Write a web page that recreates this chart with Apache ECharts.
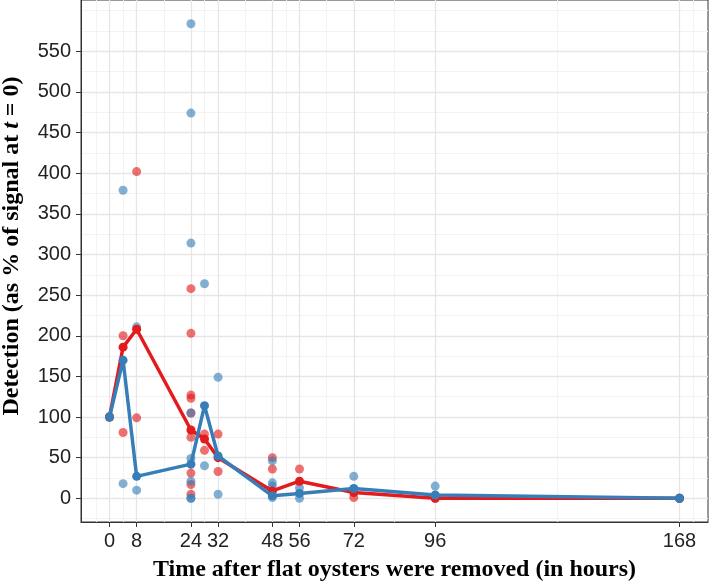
<!DOCTYPE html>
<html>
<head>
<meta charset="utf-8">
<script src="https://cdn.jsdelivr.net/npm/echarts@6/dist/echarts.min.js"></script>
<style>
html,body{margin:0;padding:0;background:#fff;}
#chart{width:709px;height:584px;}
</style>
</head>
<body>
<div id="chart"></div>
<script>
// ---- data ----
const times = [0, 4, 8, 24, 28, 32, 48, 56, 72, 96, 168];
const redMean  = [100, 186, 208, 84, 73, 50, 9, 21, 7, 0, 0];
const blueMean = [100, 170, 27, 42, 114, 52, 3, 6, 12, 4, 0];
const redRaw = [
  [100], [200, 81], [402, 99],
  [258, 203, 127, 123, 105, 75, 31, 17, 5],
  [79, 59], [79, 33], [50, 36], [36], [1], [0], [0]
];
const blueRaw = [
  [100], [379, 18], [211, 10],
  [584, 474, 314, 105, 49, 21, 0, 0],
  [264, 40], [149, 5], [46, 19, 15, 1], [13, 0], [27], [15], [0]
];
const xTicks = [0, 8, 24, 32, 48, 56, 72, 96, 168];
const xMinor = [-4, 4, 16, 28, 40, 52, 64, 84, 132, 172];
const yTicks = [0, 50, 100, 150, 200, 250, 300, 350, 400, 450, 500, 550];
const yMinor = [-25, 25, 75, 125, 175, 225, 275, 325, 375, 425, 475, 525, 575, 600];
const xTitle = 'Time after flat oysters were removed (in hours)';
const yTitle = 'Detection (as % of signal at {i|t} = 0)';

// ---- build ----
function pairs(arr) {
  const out = [];
  arr.forEach((vals, i) => vals.forEach(v => out.push([times[i], v])));
  return out;
}
const meanPairs = m => m.map((v, i) => [times[i], v]);

const RED = '#E41A1C', BLUE = '#377EB8';
const MAJOR = '#e6e6e6', MINOR = '#f3f3f3';
const SERIF = 'Liberation Serif, Times New Roman, serif';

const gridLines = (vals, key, color, width) => ({
  type: 'scatter', data: [], z: 0, silent: true,
  markLine: {
    z: 0, silent: true, symbol: ['none', 'none'], animation: false,
    label: { show: false },
    emphasis: { disabled: true },
    lineStyle: { type: 'solid', color: color, width: width },
    data: vals.map(v => ({ [key]: v }))
  }
});

const chart = echarts.init(document.getElementById('chart'), null, { renderer: 'canvas' });
chart.setOption({
  animation: false,
  backgroundColor: '#fff',
  grid: { left: 81, right: 1, top: 0, bottom: 62, containLabel: false, outerBoundsMode: 'none',
          show: true, borderColor: '#333', borderWidth: 1, backgroundColor: 'transparent' },
  xAxis: {
    type: 'value', min: -8.4, max: 176.4,
    splitLine: { show: false },
    axisLine: { show: true, onZero: false, lineStyle: { color: '#333', width: 1 } },
    axisTick: { show: true, length: 5, customValues: xTicks, lineStyle: { color: '#333' } },
    axisLabel: { customValues: xTicks, margin: 9, color: '#222', fontSize: 20, fontFamily: 'Liberation Sans, Arial, sans-serif' },
    name: xTitle, nameLocation: 'middle', nameGap: 36,
    nameTextStyle: { fontSize: 24, fontWeight: 'bold', color: '#000', fontFamily: SERIF }
  },
  yAxis: {
    type: 'value', min: -29.2, max: 613.2,
    splitLine: { show: false },
    axisLine: { show: true, onZero: false, lineStyle: { color: '#333', width: 1 } },
    axisTick: { show: true, length: 5, customValues: yTicks, lineStyle: { color: '#333' } },
    axisLabel: { customValues: yTicks, margin: 10, color: '#222', fontSize: 20, fontFamily: 'Liberation Sans, Arial, sans-serif' }
  },
  graphic: [{
    type: 'text', x: 12, y: 246, rotation: Math.PI / 2,
    style: {
      text: yTitle, align: 'center', verticalAlign: 'middle',
      fontSize: 24, fontWeight: 'bold', fill: '#000', fontFamily: SERIF,
      rich: { i: { fontSize: 24, fontWeight: 'bold', fontStyle: 'italic', fill: '#000', fontFamily: SERIF } }
    }
  }],
  series: [
    gridLines(xMinor, 'xAxis', MINOR, 1),
    gridLines(yMinor, 'yAxis', MINOR, 1),
    gridLines(xTicks, 'xAxis', MAJOR, 1.3),
    gridLines(yTicks, 'yAxis', MAJOR, 1.3),
    { type: 'scatter', data: pairs(redRaw), symbolSize: 9, z: 2,
      itemStyle: { color: RED, opacity: 0.62 } },
    { type: 'scatter', data: pairs(blueRaw), symbolSize: 9, z: 2,
      itemStyle: { color: BLUE, opacity: 0.62 } },
    { type: 'line', data: meanPairs(redMean), symbol: 'circle', symbolSize: 9, showSymbol: true, z: 3,
      lineStyle: { color: RED, width: 3.5 }, itemStyle: { color: RED } },
    { type: 'line', data: meanPairs(blueMean), symbol: 'circle', symbolSize: 9, showSymbol: true, z: 4,
      lineStyle: { color: BLUE, width: 3.5 }, itemStyle: { color: BLUE } }
  ]
});
</script>
</body>
</html>
